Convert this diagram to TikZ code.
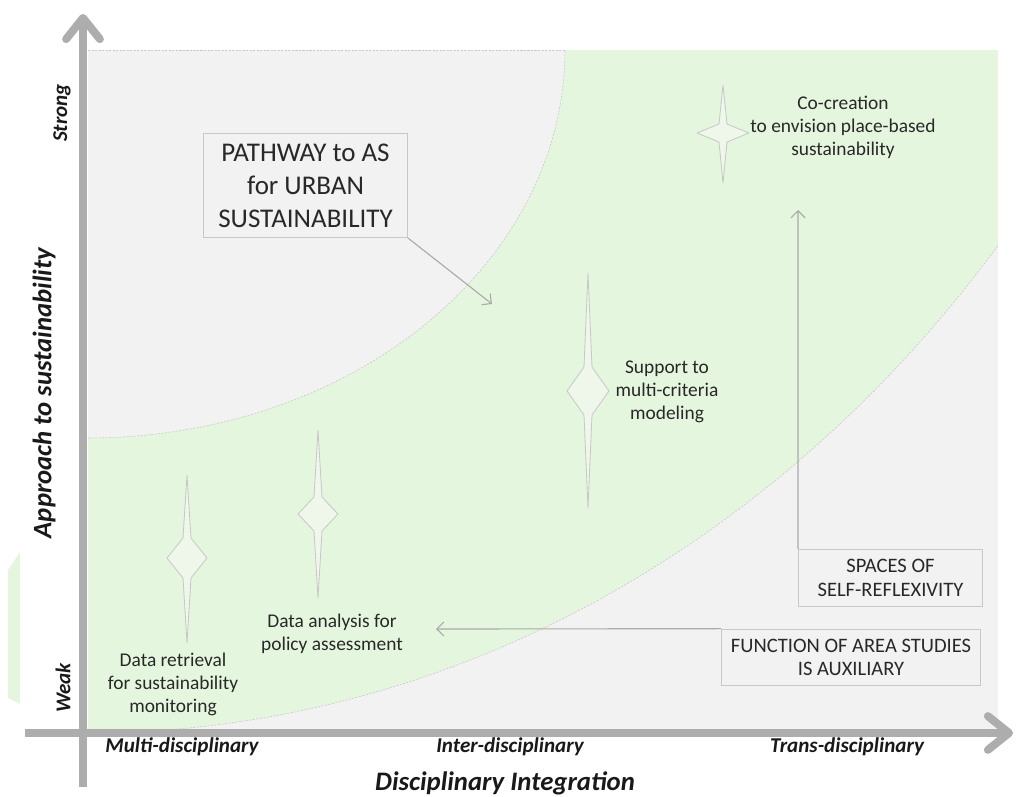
\documentclass[tikz,border=0pt]{standalone}
\usepackage{fontspec}
\setmainfont{Carlito}
\usepackage{xcolor}
\usepackage{tikz}
\usetikzlibrary{arrows.meta}
\definecolor{plotgray}{RGB}{242,242,242}
\definecolor{bandgreen}{RGB}{229,246,222}
\definecolor{spikefill}{RGB}{238,247,234}
\definecolor{linegray}{RGB}{170,170,170}
\definecolor{axisgray}{RGB}{173,173,173}
\definecolor{edgegray}{RGB}{200,200,200}
\definecolor{inkgray}{RGB}{40,40,40}
\tikzstyle{axisline} = [line width=5.7pt, axisgray, -{Straight Barb[length=15pt,width=24pt,round]}]
\tikzstyle{arrow} = [line width=0.8pt, linegray, -{Straight Barb[length=5pt,width=10pt]}]
\tikzstyle{infobox} = [draw=edgegray, fill=plotgray, line width=0.6pt, align=center, text=inkgray, inner sep=0pt]
\tikzstyle{tag} = [align=center, text=inkgray, font=\fontsize{13.8}{16.3}\selectfont]
\tikzstyle{axistag} = [text=black!90, font=\fontsize{15}{17}\selectfont\bfseries\itshape]
\tikzstyle{spike} = [draw=edgegray, fill=spikefill, line width=0.6pt, line join=round]
\tikzstyle{bandedge} = [edgegray, line width=0.4pt, dash pattern=on 1.5pt off 1pt]
% 星形标记: 中心x, 中心y, 上尖, 下尖, 半宽, 菱形半高
\newcommand{\spikestar}[6]{%
  \draw[spike] (#1,{#2-#3}) -- ({#1+4},{#2-#6}) -- ({#1+#5},#2) -- ({#1+4},{#2+#6})
    -- (#1,{#2+#4}) -- ({#1-4},{#2+#6}) -- ({#1-#5},#2) -- ({#1-4},{#2-#6}) -- cycle;}

\begin{document}
\begin{tikzpicture}[x=0.025cm, y=-0.025cm]
    \useasboundingbox (0,0) rectangle (1019,796);

    % 背景区域
    \fill[plotgray] (88,50) rectangle (998,733);
    \draw[bandedge] (88,50) -- (998,50);

    % 绿色带
    \fill[bandgreen] (88,438)
        -- plot[domain=90:0, samples=60] ({88+477*cos(\x)},{50+388*sin(\x)})
        -- (998,50) -- (998,246)
        -- plot[domain=49.3:0, samples=60] ({88+1200*sin(\x)},{-667+1400*cos(\x)})
        -- cycle;
    \fill[bandgreen] (8,570) -- (20,552) -- (20,704) -- (8,698) -- cycle;
    \draw[bandedge] plot[domain=90:0, samples=60] ({88+477*cos(\x)},{50+388*sin(\x)});
    \draw[bandedge] plot[domain=49.3:0, samples=60] ({88+1200*sin(\x)},{-667+1400*cos(\x)});

    % 坐标轴
    \draw[axisline] (83,787) -- (83,14);
    \draw[axisline] (25,733) -- (1013,733);

    % 轴标签
    \node[axistag, rotate=90] (strong) at (62,113) {Strong};
    \node[axistag, rotate=90] (weak) at (63,688) {Weak};
    \node[axistag, rotate=90, font=\fontsize{19}{22}\selectfont\bfseries\itshape] (ytitle) at (44,393) {Approach to sustainability};
    \node[axistag] (multi) at (182,747) {Multi-disciplinary};
    \node[axistag] (inter) at (510,747) {Inter-disciplinary};
    \node[axistag] (trans) at (847,747) {Trans-disciplinary};
    \node[axistag, font=\fontsize{19}{22}\selectfont\bfseries\itshape] (xtitle) at (505,783) {Disciplinary Integration};

    % 星形标记
    \spikestar{187}{558}{83}{85}{20}{20}
    \spikestar{318}{514}{84}{84}{20}{17}
    \spikestar{588}{391}{118}{117}{21}{24}
    \spikestar{723}{133}{48}{50}{26}{9}

    % 文字说明
    \node[tag] (retrieval) at (173,684) {Data retrieval\\for sustainability\\monitoring};
    \node[tag] (analysis) at (332,634) {Data analysis for\\policy assessment};
    \node[tag] (support) at (667,392) {Support to\\multi-criteria\\modeling};
    \node[tag] (cocreation) at (843,127) {Co-creation\\to envision place-based\\sustainability};

    % 方框
    \node[infobox, minimum width=145pt, minimum height=74pt, font=\fontsize{19.2}{23.4}\selectfont] (pathway) at (305.5,185.5) {PATHWAY to AS\\for URBAN\\SUSTAINABILITY};
    \node[infobox, minimum width=131pt, minimum height=41pt, font=\fontsize{14.6}{16.6}\selectfont] (spaces) at (890.5,578) {SPACES OF\\SELF-REFLEXIVITY};
    \node[infobox, minimum width=184pt, minimum height=40.4pt, font=\fontsize{14.6}{16.6}\selectfont] (function) at (851,657.5) {FUNCTION OF AREA STUDIES\\IS AUXILIARY};

    % 箭头
    \coordinate (pathtip) at (492,304);
    \coordinate (reflextip) at (798,210);
    \coordinate (auxtip) at (436,629);
    \draw[arrow] (pathway.south east) -- (pathtip);
    \draw[arrow] (spaces.north west) -- (reflextip);
    \draw[arrow] (function.north west) -- (auxtip);
\end{tikzpicture}
\end{document}
